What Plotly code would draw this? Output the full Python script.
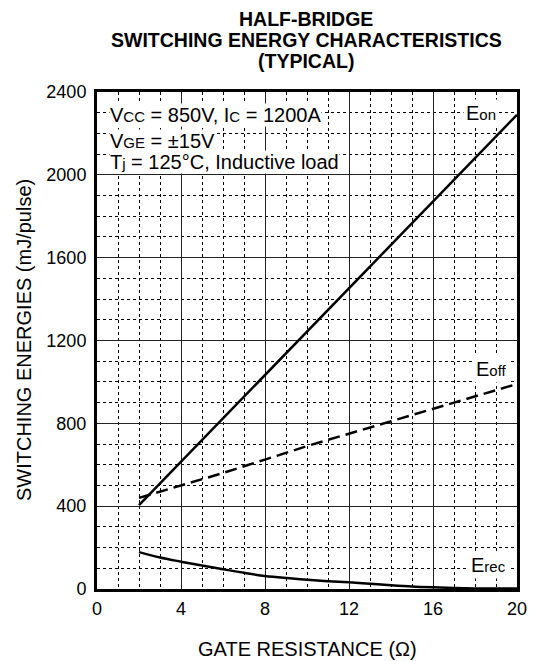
import plotly.graph_objects as go

# ---- data ----
rg_lin = [2, 4, 6, 8, 10, 12, 14, 16, 18, 20]
e_on = [405, 615, 825, 1035, 1245, 1455, 1665, 1875, 2085, 2290]
e_off = [440, 500, 560, 625, 690, 750, 810, 870, 930, 990]
rg_rec = [2, 3, 4, 5, 6, 7, 8, 9, 10, 11, 12, 13, 14, 15, 16, 17, 18, 19, 20]
e_rec = [178, 152, 132, 113, 95, 78, 63, 53, 45, 38, 32, 25, 18, 12, 8, 5, 3, 2, 2]

x_ticks = [0, 4, 8, 12, 16, 20]
y_ticks = [0, 400, 800, 1200, 1600, 2000, 2400]

title_lines = ["HALF-BRIDGE", "SWITCHING ENERGY CHARACTERISTICS", "(TYPICAL)"]
SM = "<span style='font-size:15px'>{}</span>"
cond_lines = [
    "V" + SM.format("CC") + " = 850V, I" + SM.format("C") + " = 1200A",
    "V" + SM.format("GE") + " = ±15V",
    "T" + SM.format("j") + " = 125°C, Inductive load",
]

FONT = "Liberation Sans, Arial, Helvetica, sans-serif"
OFF = 8  # page body margin offset
W, H = 539 - OFF, 661 - OFF
# plot area in reference pixels: x 97..523, y 92..589
L, T = 97 - OFF, 92 - OFF
R = W - (523 - OFF)
B = H - (589 - OFF)
PH = H - T - B
PW = W - L - R


def py(ref_pix):  # reference pixel y -> paper y
    return ((589 - OFF) - (ref_pix - OFF)) / PH


def px(ref_pix):  # reference pixel x -> paper x
    return ((ref_pix - OFF) - L) / PW


fig = go.Figure()
fig.add_trace(go.Scatter(x=rg_lin, y=e_on, mode="lines",
                         line=dict(color="black", width=2.5), hoverinfo="skip"))
fig.add_trace(go.Scatter(x=rg_lin, y=e_off, mode="lines",
                         line=dict(color="black", width=2.5, dash="12px,6px"), hoverinfo="skip"))
fig.add_trace(go.Scatter(x=rg_rec, y=e_rec, mode="lines", line_shape="spline",
                         line=dict(color="black", width=2.5), hoverinfo="skip"))

ax_common = dict(
    showline=True, linecolor="black", linewidth=3, mirror=True,
    showgrid=True, gridcolor="#222", gridwidth=1,
    zeroline=False, ticks="outside", tickcolor="rgba(0,0,0,0)",
    tickfont=dict(family=FONT, size=18, color="black"),
)
fig.update_xaxes(range=[0, 20], tickvals=x_ticks, ticktext=[str(v) for v in x_ticks], ticklen=1,
                 minor=dict(dtick=1, showgrid=True, griddash="dot", gridcolor="black", gridwidth=1),
                 **ax_common)
fig.update_yaxes(range=[0, 2400], tickvals=y_ticks, ticktext=[str(v) for v in y_ticks], ticklen=4,
                 minor=dict(dtick=100, showgrid=True, griddash="dot", gridcolor="black", gridwidth=1),
                 **ax_common)

anns = []
for txt, ypix in zip(title_lines, [19, 40, 61]):
    anns.append(dict(text=f"<b>{txt}</b>", xref="paper", yref="paper", x=px(309), y=py(ypix),
                     xanchor="center", yanchor="middle", showarrow=False,
                     font=dict(family=FONT, size=19.5, color="black")))
for txt, ypix in zip(cond_lines, [115, 141, 162]):
    anns.append(dict(text=txt, xref="paper", yref="paper", x=px(109), y=py(ypix),
                     xanchor="left", yanchor="middle", showarrow=False, bgcolor="white",
                     borderpad=0, font=dict(family=FONT, size=20, color="black")))
for txt, xpix, ypix in [("E" + SM.format("on"), 486, 113),
                        ("E" + SM.format("off"), 497, 369),
                        ("E" + SM.format("rec"), 494, 565)]:
    anns.append(dict(text=txt, xref="paper", yref="paper", x=px(xpix), y=py(ypix),
                     xanchor="center", yanchor="middle", showarrow=False, bgcolor="white",
                     borderpad=2, font=dict(family=FONT, size=20, color="black")))
anns.append(dict(text="GATE RESISTANCE (Ω)", xref="paper", yref="paper", x=px(310), y=py(649),
                 xanchor="center", yanchor="middle", showarrow=False,
                 font=dict(family=FONT, size=20, color="black")))
anns.append(dict(text="SWITCHING ENERGIES (mJ/pulse)", xref="paper", yref="paper", x=px(23),
                 y=py(340), xanchor="center", yanchor="middle", textangle=-90, showarrow=False,
                 font=dict(family=FONT, size=20, color="black")))

fig.update_layout(
    width=W, height=H, margin=dict(l=L, r=R, t=T, b=B),
    paper_bgcolor="white", plot_bgcolor="white", showlegend=False,
    annotations=anns, font=dict(family=FONT, color="black"),
)
fig.write_html("out.html")
